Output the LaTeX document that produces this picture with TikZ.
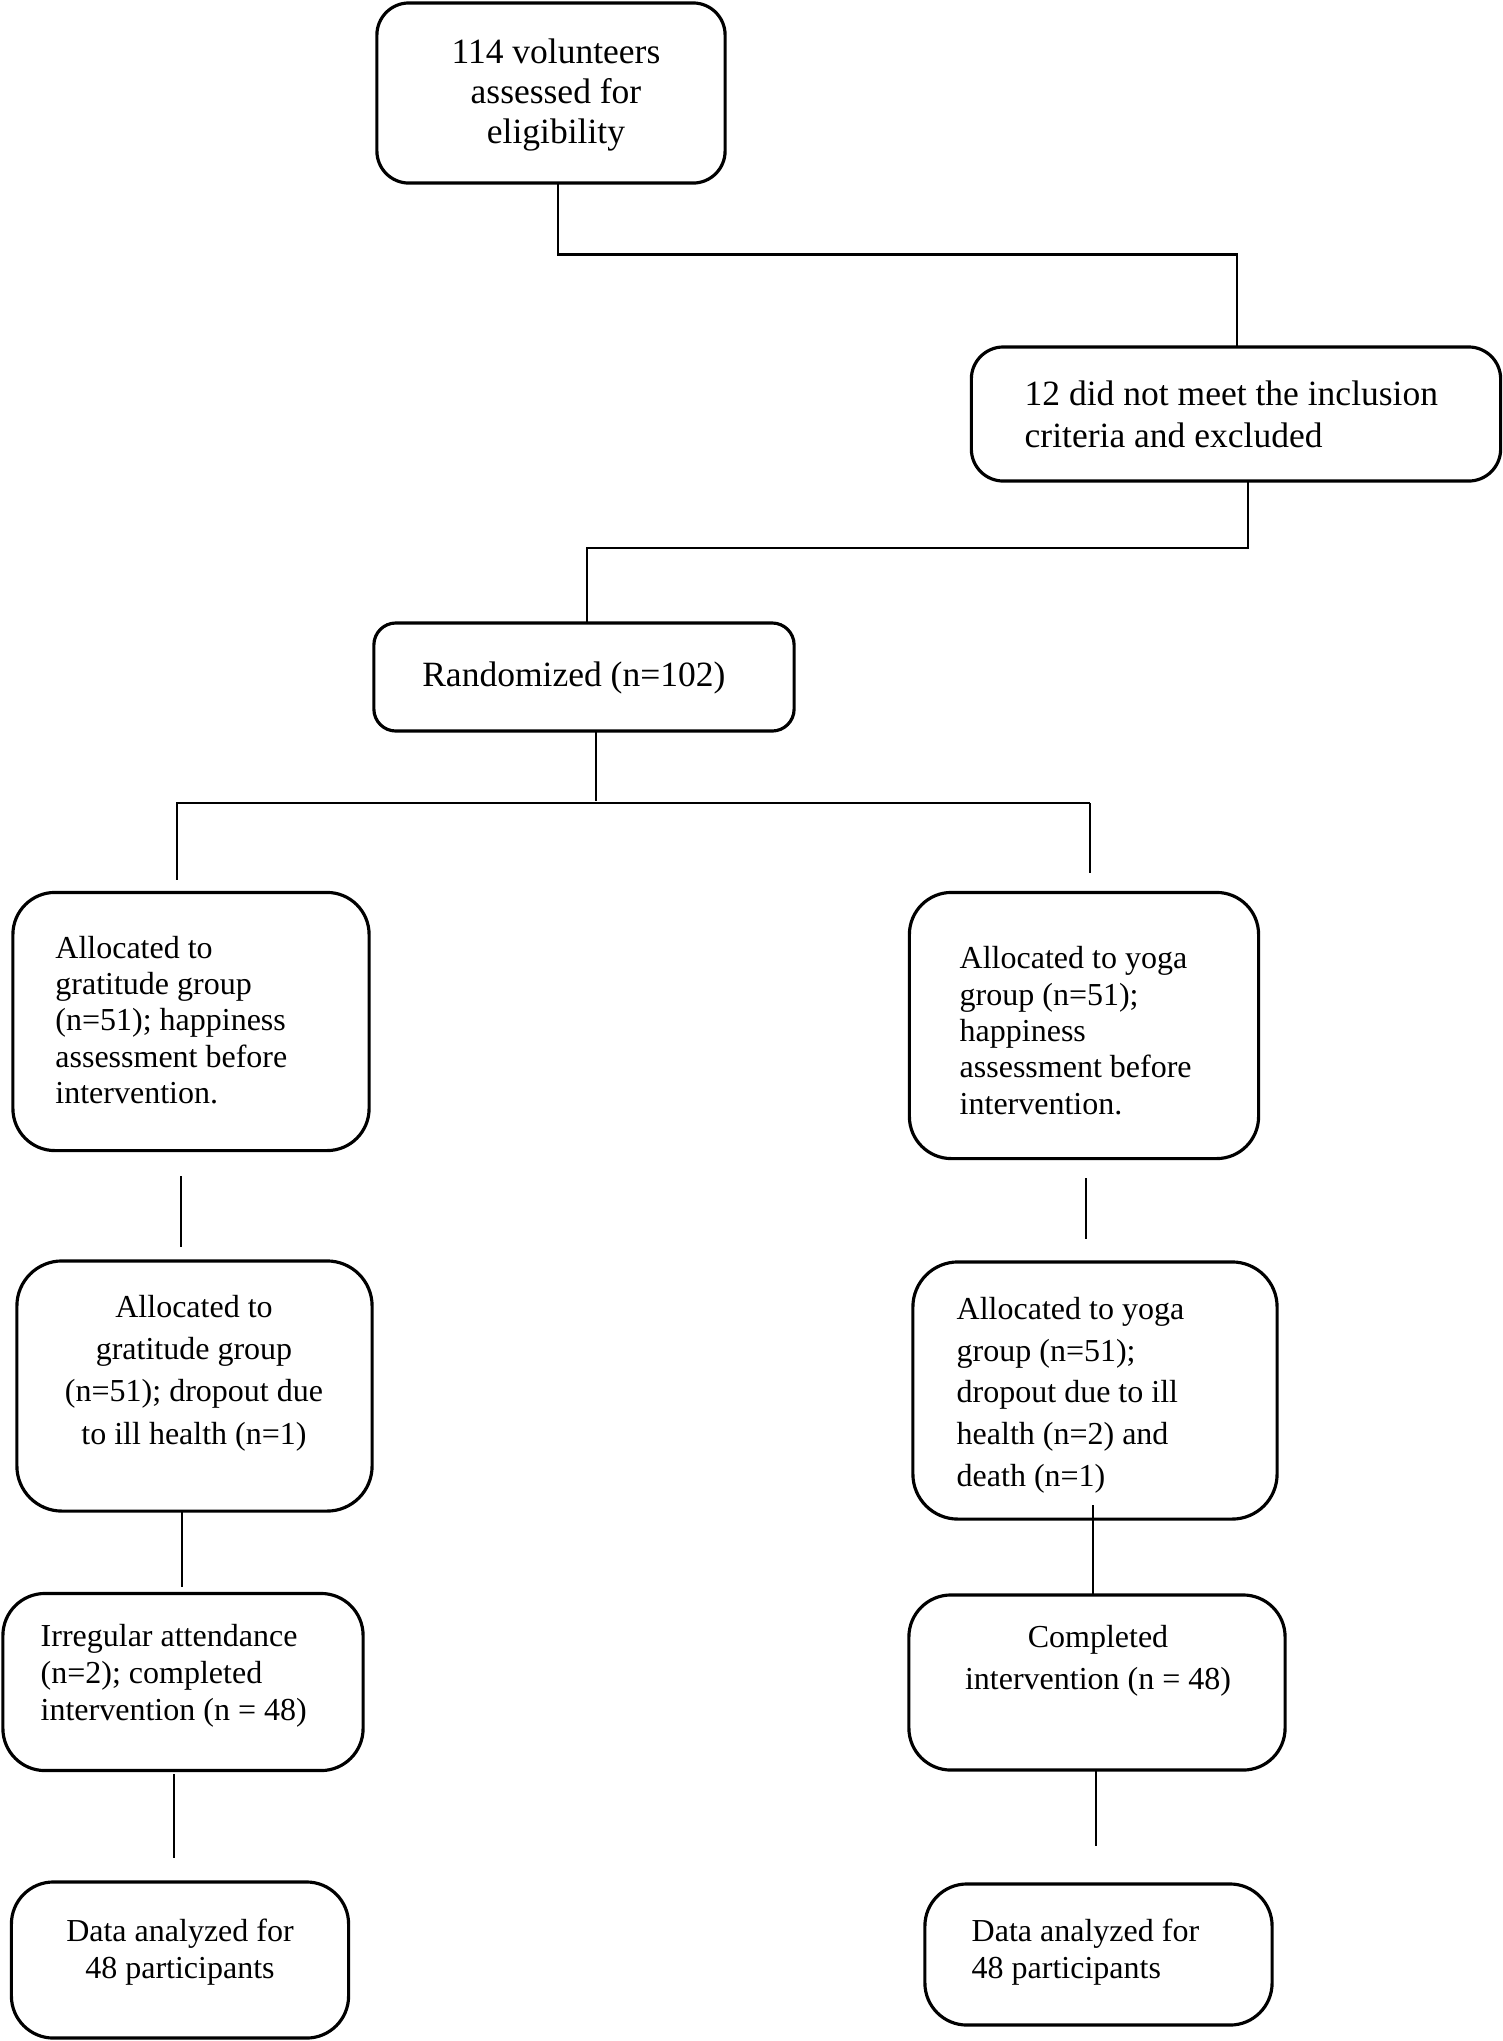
\documentclass[tikz,border=0pt]{standalone}
\usepackage{fontspec}
\setmainfont{Liberation Serif}
\begin{document}
\begin{tikzpicture}[x=0.01cm,y=-0.01cm,
  box/.style={draw, line width=0.9pt, rounded corners=0.42cm, inner sep=0pt, outer sep=0pt},
  tx/.style={inner sep=0pt, font=\fontsize{10.1pt}{#1pt}\selectfont},
  sx/.style={inner sep=0pt, font=\fontsize{9.1pt}{#1pt}\selectfont},
  ln/.style={line width=0.65pt}]
\useasboundingbox (0,0) rectangle (1503,2041);

% boxes
\node[box, rounded corners=0.32cm, minimum width=3.48cm, minimum height=1.80cm] (b1) at (551,93) {};
\node[box, rounded corners=0.32cm, minimum width=5.29cm, minimum height=1.34cm] (b2) at (1236,414) {};
\node[box, rounded corners=0.22cm, minimum width=4.20cm, minimum height=1.08cm] (b3) at (584,677) {};
\node[box, minimum width=3.56cm, minimum height=2.58cm] (b4l) at (191,1021.5) {};
\node[box, minimum width=3.49cm, minimum height=2.66cm] (b4r) at (1084,1025.5) {};
\node[box, rounded corners=0.45cm, minimum width=3.55cm, minimum height=2.50cm] (b5l) at (194.5,1386) {};
\node[box, rounded corners=0.45cm, minimum width=3.64cm, minimum height=2.57cm] (b5r) at (1095,1390.5) {};
\node[box, minimum width=3.60cm, minimum height=1.77cm] (b6l) at (183,1682) {};
\node[box, minimum width=3.76cm, minimum height=1.75cm] (b6r) at (1097,1682.5) {};
\node[box, minimum width=3.37cm, minimum height=1.56cm] (b7l) at (180,1960) {};
\node[box, minimum width=3.47cm, minimum height=1.41cm] (b7r) at (1098.5,1954.5) {};

% texts
\node[tx=11.5, align=center] (t1) at (556,95) {114 volunteers\\assessed for\\eligibility};
\node[tx=11.95, align=left, anchor=west] (t2) at (1024,414) {12 did not meet the inclusion\\criteria and excluded};
\node[tx=12, anchor=west] (t3) at (421.6,678) {Randomized (n=102)};
\node[sx=10.36, align=left, anchor=west] (t4l) at (54.7,1020) {Allocated to\\gratitude group\\(n=51); happiness\\assessment before\\intervention.};
\node[sx=10.36, align=left, anchor=west] (t4r) at (959,1030.6) {Allocated to yoga\\group (n=51);\\happiness\\assessment before\\intervention.};
\node[sx=12, align=center] (t5l) at (194,1373) {Allocated to\\gratitude group\\(n=51); dropout due\\to ill health (n=1)};
\node[sx=11.85, align=left, anchor=west] (t5r) at (956,1395) {Allocated to yoga\\group (n=51);\\dropout due to ill\\health (n=2) and\\death (n=1)};
\node[sx=10.5, align=left, anchor=west] (t6l) at (40,1676) {Irregular attendance\\(n=2); completed\\intervention (n = 48)};
\node[sx=11.85, align=center] (t6r) at (1098,1661) {Completed\\intervention (n = 48)};
\node[sx=10.7, align=center] (t7l) at (180,1952) {Data analyzed for\\48 participants};
\node[sx=10.7, align=left, anchor=west] (t7r) at (971,1952) {Data analyzed for\\48 participants};

% connector coordinates
\coordinate (k1a) at (558,254.5);
\coordinate (k1b) at (1237,254.5);
\coordinate (k2a) at (1248,548);
\coordinate (k2b) at (587,548);
\coordinate (k3a) at (596,801);
\coordinate (h3l) at (176,803);
\coordinate (h3r) at (1090,803);
\coordinate (v3l) at (177,803);
\coordinate (e4l) at (177,880);
\coordinate (e4r) at (1090,873);
\coordinate (s4l) at (181,1176);
\coordinate (f4l) at (181,1247);
\coordinate (s4r) at (1086,1178);
\coordinate (f4r) at (1086,1239);
\coordinate (f5l) at (182,1587);
\coordinate (s5r) at (1093,1505);
\coordinate (f6l0) at (174,1774);
\coordinate (f6l) at (174,1858);
\coordinate (f6r) at (1096,1846);

% connectors
\draw[ln] (b1.south -| k1a) -- (k1a) -- (k1b) -- (b2.north -| k1b);
\draw[ln] (b2.south -| k2a) -- (k2a) -- (k2b) -- (b3.north -| k2b);
\draw[ln] (b3.south -| k3a) -- (k3a);
\draw[ln] (h3l) -- (h3r);
\draw[ln] (v3l) -- (e4l);
\draw[ln] (h3r) -- (e4r);
\draw[ln] (s4l) -- (f4l);
\draw[ln] (s4r) -- (f4r);
\draw[ln] (b5l.south -| f5l) -- (f5l);
\draw[ln] (s5r) -- (b6r.north -| s5r);
\draw[ln] (f6l0) -- (f6l);
\draw[ln] (b6r.south -| f6r) -- (f6r);
\end{tikzpicture}
\end{document}
